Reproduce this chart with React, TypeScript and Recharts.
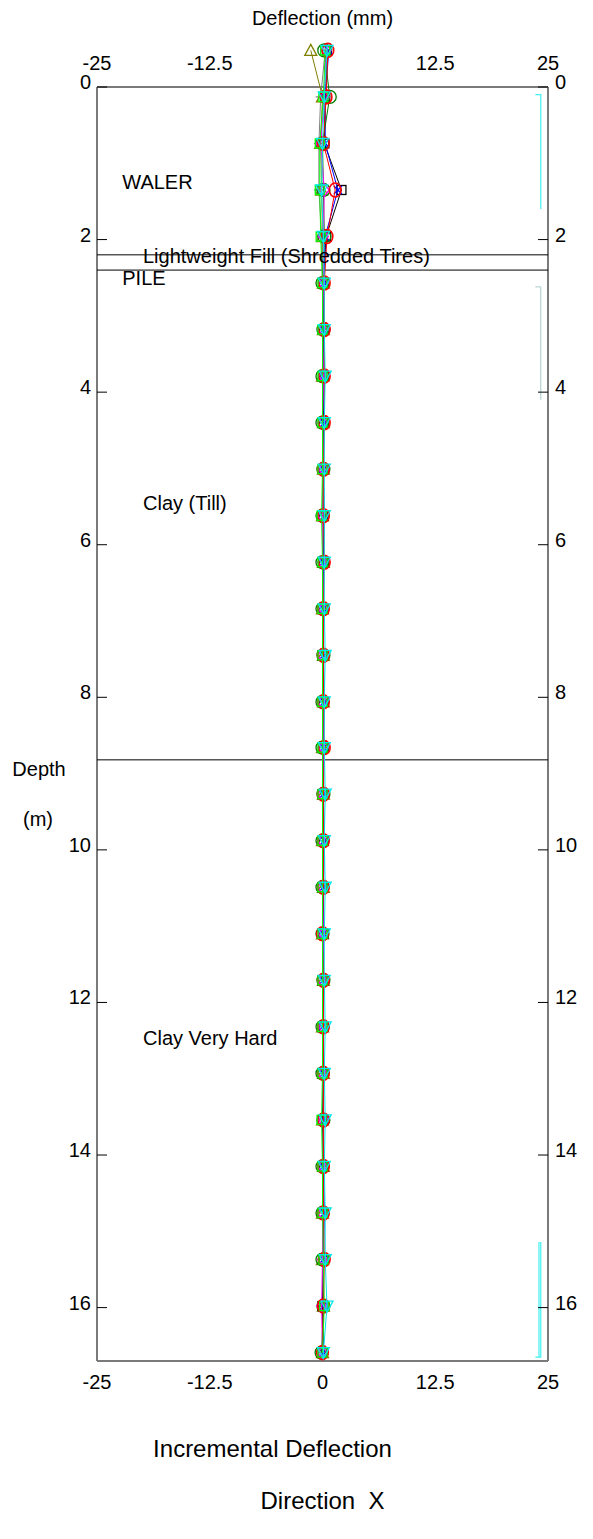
import React from 'react';
import { ScatterChart, Scatter, XAxis, YAxis, ReferenceLine } from 'recharts';

const FONT = '"Liberation Sans", Arial, Helvetica, sans-serif';

// Depth of each inclinometer node (m)
const DEPTHS = [-0.48, 0.13, 0.74, 1.35, 1.96, 2.57, 3.18, 3.79, 4.4, 5.01, 5.62, 6.23, 6.84, 7.45, 8.06, 8.66, 9.27, 9.88, 10.49, 11.1, 11.71, 12.32, 12.93, 13.54, 14.15, 14.76, 15.37, 15.98, 16.59];

// Incremental deflection (mm) per reading
const READ_RED = [0.6, 0.4, 0.1, 1.4, 0.5, 0.2, 0.2, 0.2, 0.2, 0.1, 0.1, 0.2, 0.1, 0.1, 0.1, 0.2, 0.1, 0.1, 0.1, 0.0, 0.1, 0.1, 0.1, 0.1, 0.1, 0.1, 0.2, 0.1, 0.0];
const READ_BLACK = [0.5, 0.3, 0.2, 2.1, 0.4, 0.1, 0.1, 0.2, 0.1, 0.1, 0.1, 0.1, 0.1, 0.0, 0.1, 0.1, 0.0, 0.1, 0.0, 0.1, 0.0, 0.1, 0.0, 0.0, 0.1, 0.0, 0.1, 0.0, 0.0];
const READ_BLUE = [0.7, 0.3, 0.3, 1.7, 0.3, 0.2, 0.1, 0.1, 0.2, 0.1, 0.2, 0.1, 0.1, 0.1, 0.2, 0.1, 0.1, 0.2, 0.1, 0.1, 0.1, 0.0, 0.1, 0.1, 0.1, 0.2, 0.1, 0.1, 0.1];
const READ_MAGENTA = [0.4, 0.2, -0.2, 0.2, 0.1, 0.1, 0.0, 0.1, 0.0, 0.1, 0.0, 0.0, 0.1, 0.0, 0.0, 0.1, 0.0, 0.0, 0.0, 0.1, 0.0, 0.1, 0.0, 0.1, 0.0, 0.0, 0.0, -0.1, 0.0];
const READ_GREEN = [0.3, 0.1, -0.3, -0.3, -0.2, 0.0, 0.0, 0.0, 0.0, 0.0, -0.1, 0.0, 0.0, 0.0, 0.0, 0.0, 0.0, 0.0, 0.0, 0.0, 0.0, 0.0, 0.0, -0.1, 0.0, 0.0, 0.1, 0.2, 0.0];
const READ_CYAN = [0.5, 0.2, 0.0, -0.1, 0.1, 0.2, 0.2, 0.3, 0.2, 0.2, 0.2, 0.2, 0.2, 0.3, 0.2, 0.2, 0.3, 0.2, 0.3, 0.2, 0.2, 0.3, 0.2, 0.3, 0.2, 0.3, 0.3, 0.5, 0.1];
const READ_OLIVE = [-1.3, 0.0, -0.2, -0.1, 0.0, 0.1, 0.1, 0.0, 0.1, 0.1, 0.0, 0.1, 0.0, 0.1, 0.1, 0.0, 0.1, 0.0, 0.1, 0.0, 0.1, 0.0, 0.1, 0.0, 0.1, 0.0, 0.0, 0.1, 0.0];
const READ_DKGREEN = [0.2, 0.8, 0.0, 0.1, 0.2, 0.0, 0.1, 0.0, 0.0, 0.1, 0.0, 0.0, 0.0, 0.1, 0.0, 0.0, 0.1, 0.0, 0.0, 0.0, 0.1, 0.0, 0.0, 0.1, 0.0, 0.0, 0.0, 0.1, -0.1];
const READ_GRAY = [0.3, -0.2, -0.4, -0.4, -0.1, 0.0, 0.0, 0.1, 0.0, 0.0, 0.1, 0.0, 0.0, 0.0, 0.1, 0.0, 0.0, 0.0, 0.0, 0.1, 0.0, 0.0, 0.0, 0.0, 0.0, 0.1, 0.0, 0.0, 0.0];

const SERIES_COLORS = ['#808080', '#808000', '#000000', '#0000ff', '#008000', '#ff00ff', '#ff0000', '#00ff00', '#00e8e8'];
const SERIES_SHAPES = ['plus', 'tri', 'square', 'x', 'bigcircle', 'diamond', 'circle', 'square', 'itri'];
const SERIES_VALUES = [READ_GRAY, READ_OLIVE, READ_BLACK, READ_BLUE, READ_DKGREEN, READ_MAGENTA, READ_RED, READ_GREEN, READ_CYAN];

// Right-hand brackets
const BRACKET1_X = [23.6, 24.2, 24.2];
const BRACKET1_D = [0.1, 0.1, 1.6];
const BRACKET2_X = [23.6, 24.2, 24.2];
const BRACKET2_D = [2.62, 2.62, 4.1];
const BRACKET3A_X = [24.0, 24.0];
const BRACKET3A_D = [15.14, 16.65];
const BRACKET3B_X = [24.2, 24.2, 23.6];
const BRACKET3B_D = [15.14, 16.65, 16.65];

// Soil layer boundaries and annotations
const LAYER_DEPTHS = [2.2, 2.4, 8.82];
const ANNOT_TEXT = ['WALER', 'Lightweight Fill (Shredded Tires)', 'PILE', 'Clay (Till)', 'Clay Very Hard'];
const ANNOT_X = [-22.2, -19.9, -22.2, -19.9, -19.9];
const ANNOT_D = [1.25, 2.22, 2.5, 5.45, 12.46];

const DEPTH_TICKS = [0, 2, 4, 6, 8, 10, 12, 14, 16];
const BOTTOM_TICKS = [-25, -12.5, 0, 12.5, 25];
const TOP_TICKS = [-25, -12.5, 12.5, 25];
const X_DOMAIN = [-25, 25];
const D_DOMAIN = [-0.7, 16.7];
const BOX_TOP = 0;
const BOX_BOTTOM = 16.7;

const pts = (xs: number[], ds: number[]) => xs.map((x, i) => ({ x, y: ds[i] }));

const makeShape = (kind: string, color: string) => (p: any) => {
  const { cx, cy } = p;
  if (cx == null || cy == null) return null;
  const sw = 1.3;
  switch (kind) {
    case 'circle':
      return <ellipse cx={cx} cy={cy} rx={5.8} ry={7} fill="none" stroke={color} strokeWidth={1.6} />;
    case 'bigcircle':
      return <circle cx={cx} cy={cy} r={6.5} fill="none" stroke={color} strokeWidth={sw} />;
    case 'square':
      return <rect x={cx - 4.5} y={cy - 4.5} width={9} height={9} fill="none" stroke={color} strokeWidth={sw} />;
    case 'tri':
      return <polygon points={`${cx},${cy - 6} ${cx + 6},${cy + 5} ${cx - 6},${cy + 5}`} fill="none" stroke={color} strokeWidth={sw} />;
    case 'itri':
      return (
        <g stroke={color} strokeWidth={sw} fill="none">
          <polygon points={`${cx - 6},${cy - 5} ${cx + 6},${cy - 5} ${cx},${cy + 6}`} />
          <line x1={cx} y1={cy - 5} x2={cx} y2={cy + 6} />
        </g>
      );
    case 'diamond':
      return <polygon points={`${cx},${cy - 6} ${cx + 5},${cy} ${cx},${cy + 6} ${cx - 5},${cy}`} fill="none" stroke={color} strokeWidth={sw} />;
    case 'x':
      return (
        <g stroke={color} strokeWidth={sw}>
          <line x1={cx - 4} y1={cy - 4} x2={cx + 4} y2={cy + 4} />
          <line x1={cx - 4} y1={cy + 4} x2={cx + 4} y2={cy - 4} />
        </g>
      );
    case 'plus':
      return (
        <g stroke={color} strokeWidth={sw}>
          <line x1={cx - 5} y1={cy} x2={cx + 5} y2={cy} />
          <line x1={cx} y1={cy - 5} x2={cx} y2={cy + 5} />
        </g>
      );
    default:
      return null;
  }
};

const noShape = () => null;

const textStyle = { fontFamily: FONT, fontSize: 20, fill: '#000' };

const LeftTick = (p: any) => (
  <g>
    <line x1={p.x} x2={p.x + 10} y1={p.y} y2={p.y} stroke="#000" strokeWidth={1} />
    <text x={p.x - 6} y={p.y + 2} textAnchor="end" style={textStyle}>{p.payload.value}</text>
  </g>
);

const RightTick = (p: any) => (
  <g>
    <line x1={p.x - 10} x2={p.x} y1={p.y} y2={p.y} stroke="#000" strokeWidth={1} />
    <text x={p.x + 7} y={p.y + 2} textAnchor="start" style={textStyle}>{p.payload.value}</text>
  </g>
);

const TopTick = (p: any) => (
  <text x={p.x} y={p.y + 36} textAnchor="middle" style={textStyle}>{p.payload.value}</text>
);

const BottomTick = (p: any) => (
  <text x={p.x} y={p.y + 28} textAnchor="middle" style={textStyle}>{p.payload.value}</text>
);

const TopTitle = (p: any) => {
  const vb = p.viewBox;
  return <text x={vb.x + vb.width / 2} y={vb.y + 17} textAnchor="middle" style={textStyle}>Deflection (mm)</text>;
};

const BottomTitle = (p: any) => {
  const vb = p.viewBox;
  const big = { fontFamily: FONT, fontSize: 24, fill: '#000' };
  return (
    <g>
      <text x={vb.x + vb.width / 2 - 50} y={vb.y + 96} textAnchor="middle" style={big}>Incremental Deflection</text>
      <text x={vb.x + vb.width / 2} y={vb.y + 148} textAnchor="middle" style={big} xmlSpace="preserve">Direction  X</text>
    </g>
  );
};

const DepthTitle = (p: any) => {
  const vb = p.viewBox;
  return (
    <g>
      <text x={vb.x + 31} y={vb.y + 742} textAnchor="middle" style={textStyle}>Depth</text>
      <text x={vb.x + 30} y={vb.y + 792} textAnchor="middle" style={textStyle}>(m)</text>
    </g>
  );
};

const AnnotShape = (p: any) => (
  <text x={p.cx} y={p.cy} dominantBaseline="central" textAnchor="start" style={textStyle}>{p.payload.label}</text>
);

export default function App() {
  const annotData = ANNOT_TEXT.map((label, i) => ({ x: ANNOT_X[i], y: ANNOT_D[i], label }));
  const boxStroke = '#7a7a7a';
  return (
    <ScatterChart width={577} height={1523} margin={{ top: 0, right: 0, bottom: 0, left: 0 }}>
      <XAxis xAxisId="b" type="number" dataKey="x" domain={X_DOMAIN} ticks={BOTTOM_TICKS} orientation="bottom"
        height={170} axisLine={{ stroke: boxStroke, strokeWidth: 2 }} tickLine={false} tickSize={0} tickMargin={0}
        tick={<BottomTick />} label={(p: any) => <BottomTitle {...p} />} interval={0} />
      <XAxis xAxisId="t" type="number" dataKey="x" domain={X_DOMAIN} ticks={TOP_TICKS} orientation="top"
        height={25.6} axisLine={false} tickLine={false} tickSize={0} tickMargin={0}
        tick={<TopTick />} label={(p: any) => <TopTitle {...p} />} interval={0} />
      <YAxis yAxisId="l" type="number" dataKey="y" domain={D_DOMAIN} reversed ticks={DEPTH_TICKS} orientation="left"
        width={89} axisLine={false} tickLine={false} tickSize={0} tickMargin={0} tick={<LeftTick />}
        label={(p: any) => <DepthTitle {...p} />} interval={0} />
      <YAxis yAxisId="r" type="number" dataKey="y" domain={D_DOMAIN} reversed ticks={DEPTH_TICKS} orientation="right"
        width={37} axisLine={false} tickLine={false} tickSize={0} tickMargin={0} tick={<RightTick />} interval={0} />

      <ReferenceLine xAxisId="b" yAxisId="l" y={BOX_TOP} stroke={boxStroke} strokeWidth={2} />
      <ReferenceLine xAxisId="b" yAxisId="l" segment={[{ x: X_DOMAIN[0], y: BOX_TOP }, { x: X_DOMAIN[0], y: BOX_BOTTOM }]} stroke={boxStroke} strokeWidth={2} />
      <ReferenceLine xAxisId="b" yAxisId="l" segment={[{ x: X_DOMAIN[1], y: BOX_TOP }, { x: X_DOMAIN[1], y: BOX_BOTTOM }]} stroke={boxStroke} strokeWidth={2} />
      {LAYER_DEPTHS.map((d) => (
        <ReferenceLine key={d} xAxisId="b" yAxisId="l" y={d} stroke="#000" strokeWidth={1} />
      ))}

      <Scatter xAxisId="t" yAxisId="r" data={pts(BRACKET1_X, BRACKET1_D)} line={{ stroke: '#40f0f0', strokeWidth: 1.2 }} shape={noShape} isAnimationActive={false} />
      <Scatter xAxisId="t" yAxisId="r" data={pts(BRACKET2_X, BRACKET2_D)} line={{ stroke: '#a8c8c8', strokeWidth: 1 }} shape={noShape} isAnimationActive={false} />
      <Scatter xAxisId="t" yAxisId="r" data={pts(BRACKET3A_X, BRACKET3A_D)} line={{ stroke: '#40f0f0', strokeWidth: 1.2 }} shape={noShape} isAnimationActive={false} />
      <Scatter xAxisId="t" yAxisId="r" data={pts(BRACKET3B_X, BRACKET3B_D)} line={{ stroke: '#40f0f0', strokeWidth: 1.2 }} shape={noShape} isAnimationActive={false} />

      {SERIES_VALUES.map((vals, i) => (
        <Scatter key={i} xAxisId="b" yAxisId="l" data={pts(vals, DEPTHS)}
          line={{ stroke: SERIES_COLORS[i], strokeWidth: 1 }}
          shape={makeShape(SERIES_SHAPES[i], SERIES_COLORS[i])} isAnimationActive={false} />
      ))}

      <Scatter xAxisId="b" yAxisId="l" data={annotData} shape={AnnotShape} isAnimationActive={false} />
    </ScatterChart>
  );
}
